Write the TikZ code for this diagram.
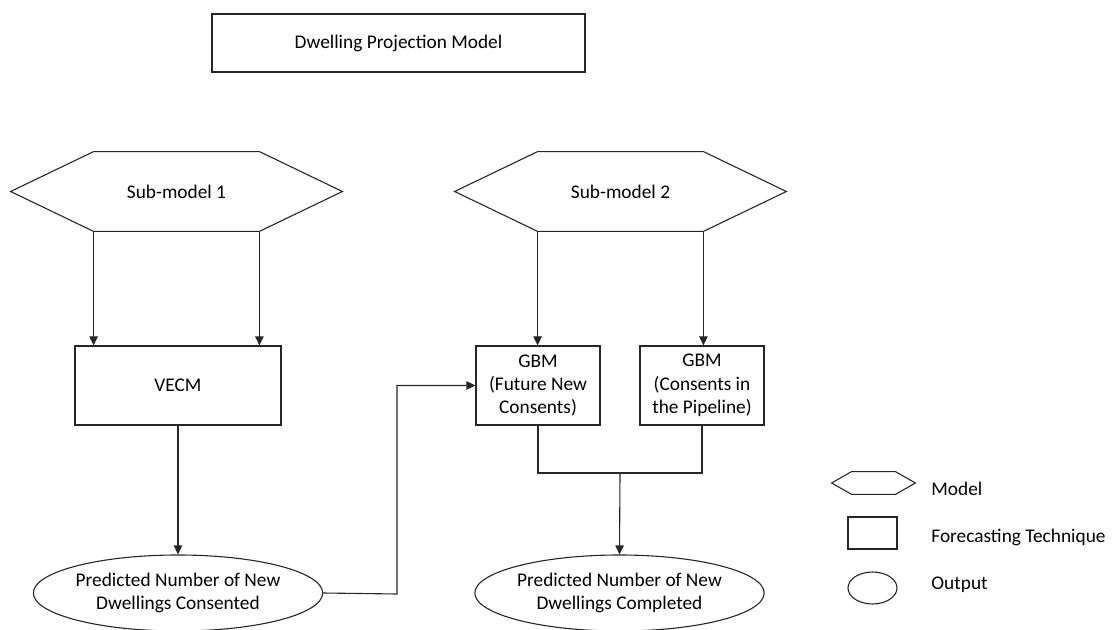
\documentclass[tikz,border=0pt]{standalone}
\usepackage{fontspec}
\setmainfont{Carlito}
\usetikzlibrary{arrows.meta,calc,shapes.geometric}
\begin{document}
\begin{tikzpicture}[x=0.5pt,y=-0.5pt,
  every node/.style={font=\fontsize{9.67pt}{11.7pt}\selectfont, inner sep=0pt, align=center},
  ln/.style={draw=black!85, line width=0.55pt},
  arr/.style={ln, -{Triangle[width=4.2pt,length=4.5pt]}},
  boxx/.style={ln, rectangle, minimum height=39.5pt},
  outp/.style={ln, ellipse, minimum height=38pt},
  hexa/.style={rectangle, minimum height=39.5pt}
]
\useasboundingbox (0,0) rectangle (1112,630);
% title
\node[boxx, minimum width=186.5pt, minimum height=29pt] (title) at (398.5,43) {Dwelling Projection Model};
% hexagons
\node[hexa, minimum width=165.5pt] (h1) at (176.5,191.5) {Sub-model 1};
\node[hexa, minimum width=165.5pt] (h2) at (620.5,191.5) {Sub-model 2};
\foreach \h in {h1,h2}{
  \draw[ln] (\h.west) -- ($(\h.north west)+(83,0)$) -- ($(\h.north east)+(-83,0)$) -- (\h.east)
    -- ($(\h.south east)+(-83,0)$) -- ($(\h.south west)+(83,0)$) -- cycle;
  \coordinate (\h l) at ($(\h.south west)+(83,0)$);
  \coordinate (\h r) at ($(\h.south east)+(-83,0)$);
}
% technique boxes
\node[boxx, minimum width=103pt] (vecm) at (178,385.5) {VECM};
\node[boxx, minimum width=62pt] (gbm1) at (538,385.5) {GBM\\(Future New\\Consents)};
\node[boxx, minimum width=62pt] (gbm2) at (702,385.5) {GBM\\(Consents in\\the Pipeline)};
% outputs
\node[outp, minimum width=144pt] (out1) at (178,593) {Predicted Number of New\\Dwellings Consented};
\node[outp, minimum width=143.5pt] (out2) at (619.5,593) {Predicted Number of New\\Dwellings Completed};
% connectors
\draw[arr] (h1l) -- (h1l |- vecm.north);
\draw[arr] (h1r) -- (h1r |- vecm.north);
\draw[arr] (h2l) -- (h2l |- gbm1.north);
\draw[arr] (h2r) -- (h2r |- gbm2.north);
\draw[arr] (vecm.south) -- (out1.north);
\coordinate (bend) at (397,594);
\draw[arr] (out1.east) -- (bend) |- (gbm1.west);
\coordinate (m) at (620,473);
\draw[ln] (gbm1.south) |- (m) -| (gbm2.south);
\draw[arr] (m) -- (out2.north);
% legend
\node[hexa, minimum width=41.5pt, minimum height=11pt] (lh) at (873.5,483) {};
\draw[ln] (lh.west) -- ($(lh.north west)+(20,0)$) -- ($(lh.north east)+(-20,0)$) -- (lh.east)
    -- ($(lh.south east)+(-20,0)$) -- ($(lh.south west)+(20,0)$) -- cycle;
\node[boxx, minimum width=24.5pt, minimum height=16pt] (lr) at (872.5,533) {};
\node[outp, minimum width=24.5pt, minimum height=16pt] (le) at (872.5,588) {};
\node[anchor=base west] (tm) at (931,495) {Model};
\node[anchor=base west] (tf) at (931,542.7) {Forecasting Technique};
\node[anchor=base west] (to) at (931,589.3) {Output};
\end{tikzpicture}
\end{document}
